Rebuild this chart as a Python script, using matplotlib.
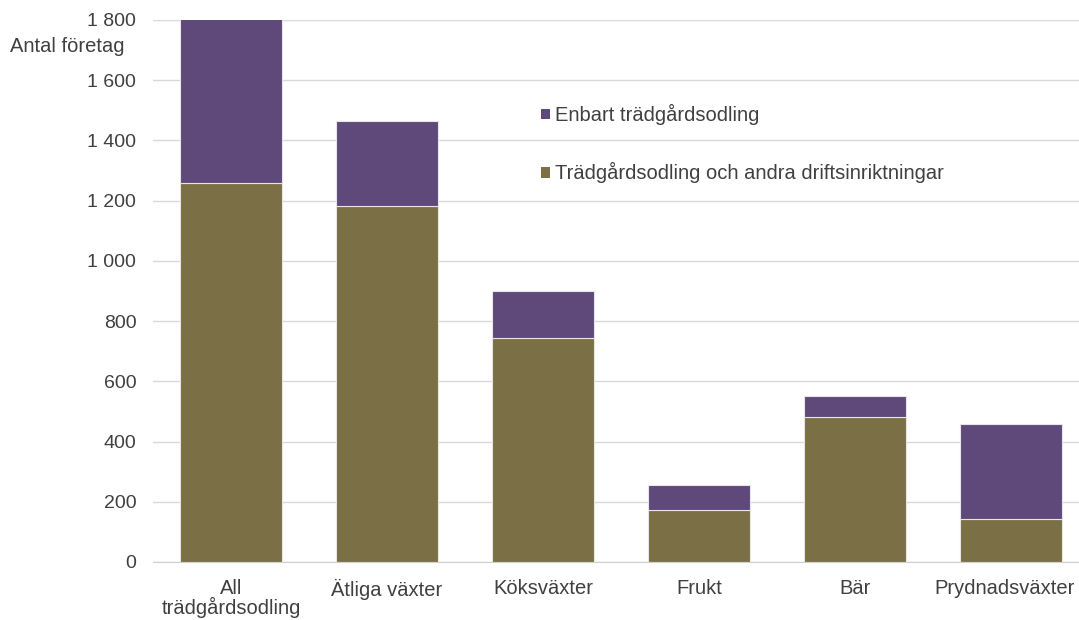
import matplotlib.pyplot as plt
import matplotlib.transforms as mtransforms
import numpy as np

plt.rcParams['font.family'] = ['Liberation Sans', 'DejaVu Sans']

categories = ['All\nträdgårdsodling', 'Ätliga växter', 'Köksväxter', 'Frukt', 'Bär', 'Prydnadsväxter']
andra = [1258, 1183, 745, 173, 482, 143]
enbart = [552, 282, 155, 83, 69, 315]
yticks = [0, 200, 400, 600, 800, 1000, 1200, 1400, 1600, 1800]
ytick_labels = ['0', '200', '400', '600', '800', '1 000', '1 200', '1 400', '1 600', '1 800']

olive = '#7a6f45'
purple = '#5e497a'
txt = '#404040'
fs = 14.5

fig = plt.figure(figsize=(10.79, 6.2), dpi=100)
ax = fig.add_axes([153 / 1079, 1 - 562 / 620, 936 / 1079, 542 / 620])

x = np.arange(len(categories))
b1 = ax.bar(x, andra, width=0.66, color=olive, edgecolor='#e6e6e6', linewidth=0.8,
            label='Trädgårdsodling och andra driftsinriktningar', zorder=3)
b2 = ax.bar(x, enbart, width=0.66, bottom=andra, color=purple, edgecolor='#e6e6e6', linewidth=0.8,
            label='Enbart trädgårdsodling', zorder=3)

ax.set_xlim(-0.5, len(categories) - 0.5)
ax.set_ylim(0, 1800)
ax.set_yticks(yticks)
ax.set_yticklabels(ytick_labels)
ax.set_xticks(x)
ax.set_xticklabels(categories, linespacing=0.95)
ax.tick_params(axis='y', length=0, pad=12, labelsize=14, labelcolor=txt)
ax.tick_params(axis='x', length=0, pad=12, labelsize=fs, labelcolor=txt)
ax.grid(axis='y', color='#d9d9d9', linewidth=1, zorder=0)
for s in ['top', 'right', 'left']:
    ax.spines[s].set_visible(False)
ax.spines['bottom'].set_color('#d0d0d0')
ax.spines['bottom'].set_zorder(4)

# last label sits at the right edge, nudge it in a little
last = ax.get_xticklabels()[-1]
last.set_transform(last.get_transform() + mtransforms.ScaledTranslation(-6 / 100, 0, fig.dpi_scale_trans))

fig.text(10 / 1079, 1 - 47 / 620, 'Antal företag', fontsize=fs, color=txt, va='center', ha='left')

leg = ax.legend([b2, b1], ['Enbart trädgårdsodling', 'Trädgårdsodling och andra driftsinriktningar'],
                loc='upper left', bbox_to_anchor=(531 / 1079, 1 - 94 / 620), bbox_transform=fig.transFigure,
                frameon=False, fontsize=fs, labelspacing=1.85, handlelength=0.45, handleheight=0.45,
                handletextpad=0.25, borderpad=0)
for t in leg.get_texts():
    t.set_color(txt)
for h in leg.legend_handles:
    h.set_edgecolor('none')

fig.savefig('out.png', dpi=100)
